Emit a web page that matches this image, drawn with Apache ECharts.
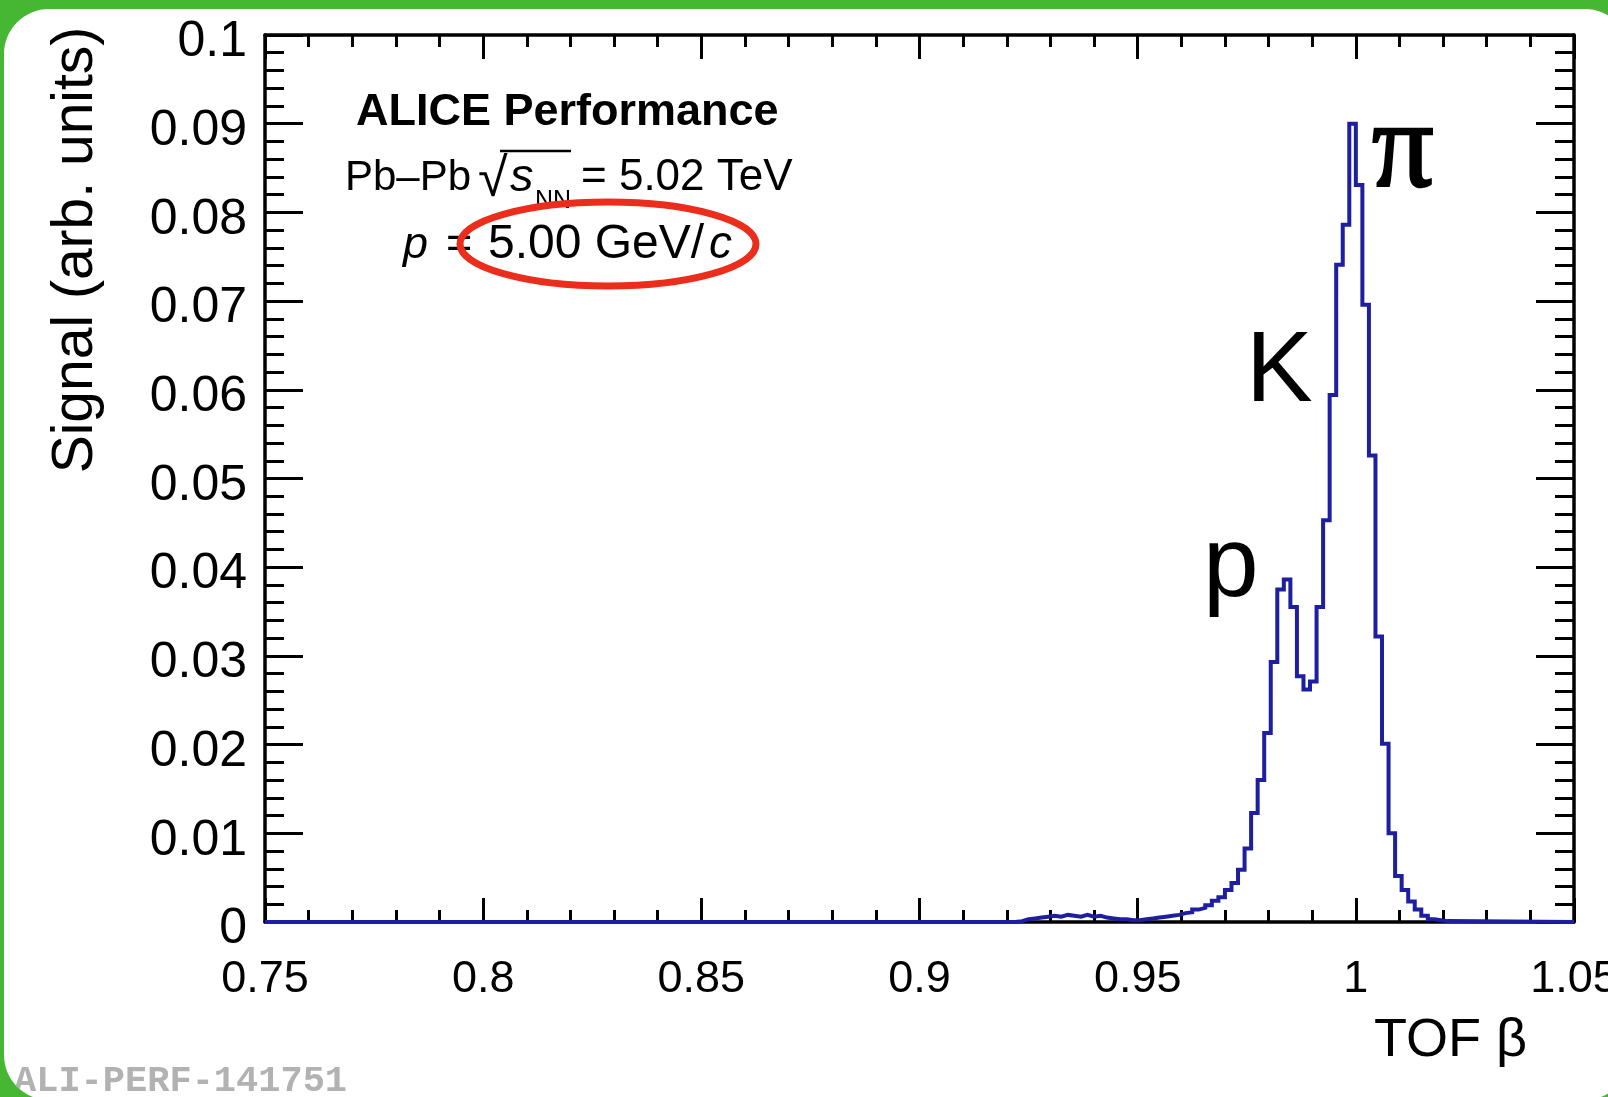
<!DOCTYPE html>
<html>
<head>
<meta charset="utf-8">
<script src="https://cdn.jsdelivr.net/npm/echarts@6/dist/echarts.min.js"></script>
<style>
  html, body { margin: 0; padding: 0; width: 1608px; height: 1097px; overflow: hidden; background: #46b732; }
  #panel { position: absolute; left: 4px; top: 9px; width: 1626px; height: 1091px; background: #fff; border-radius: 45px; overflow: hidden; }
  #chart { position: absolute; left: -4px; top: -9px; width: 1608px; height: 1097px; }
</style>
</head>
<body>
<div id="panel"><div id="chart"></div></div>
<script>
// TOF beta distribution, Pb–Pb at 5.02 TeV, tracks with p = 5.00 GeV/c
const betaRange = [0.75, 1.05];
const betaTickStep = 0.05;
const signalRange = [0, 0.1];
const signalTickStep = 0.01;

// histogram binning: every bin below firstBinLow is empty
const binWidth = 0.0015;
const firstBinLow = 0.922;
const signal = [
  0.0001, 0.0003, 0.0004, 0.0005, 0.0006, 0.0007, 0.0006, 0.0008, 0.0007, 0.0006,
  0.0008, 0.0006, 0.0007, 0.0005, 0.0004, 0.0003, 0.0003, 0.0002, 0.0002, 0.0003,
  0.0004, 0.0005, 0.0006, 0.0007, 0.0008, 0.0010, 0.0011, 0.0014, 0.0016, 0.0019,
  0.0024, 0.0028, 0.0036, 0.0044, 0.0059, 0.0083, 0.0123, 0.0160, 0.0213, 0.0293,
  0.0375, 0.0386, 0.0355, 0.0277, 0.0262, 0.0271, 0.0355, 0.0453, 0.0594, 0.0741,
  0.0786, 0.0900, 0.0831, 0.0696, 0.0526, 0.0322, 0.0201, 0.0100, 0.0052, 0.0036,
  0.0023, 0.0014, 0.0007, 0.0003, 0.0002, 0.0001
];

const peakLabels = [
  { text: 'π', x: 1372, y: 154, font: '122px "Liberation Serif", "DejaVu Serif", serif', stroke: 2.5 },
  { text: 'K', x: 1246, y: 373, font: null, stroke: 0 },
  { text: 'p', x: 1203, y: 568, font: null, stroke: 0 }
];

const SANS = '"Liberation Sans", Arial, Helvetica, sans-serif';
const LINE_COLOR = '#1e1ea0';

// step-histogram points: [bin low edge, content]
const points = [[betaRange[0], 0]];
signal.forEach((v, i) => {
  points.push([+(firstBinLow + i * binWidth).toFixed(5), v]);
});
points.push([+(firstBinLow + signal.length * binWidth).toFixed(5), 0]);
points.push([betaRange[1], 0]);

function frameAxis(base, opts) {
  return Object.assign({
    type: 'value',
    axisLine: { show: true, onZero: false, lineStyle: { color: '#000', width: 3.5 } },
    splitLine: { show: false },
    minorSplitLine: { show: false }
  }, base, opts);
}

const xBase = { min: betaRange[0], max: betaRange[1], interval: betaTickStep };
const yBase = { min: signalRange[0], max: signalRange[1], interval: signalTickStep };

const xTicks = {
  axisTick: { show: true, inside: true, length: 24, lineStyle: { color: '#000', width: 3 } },
  minorTick: { show: true, splitNumber: 5, length: 12, lineStyle: { color: '#000', width: 3 } }
};
const yTicks = {
  axisTick: { show: true, inside: true, length: 38, lineStyle: { color: '#000', width: 3 } },
  minorTick: { show: true, splitNumber: 5, length: 19, lineStyle: { color: '#000', width: 3 } }
};

function txt(text, x, y, font, extra) {
  return Object.assign({
    type: 'text', x: x, y: y, z: 10,
    style: Object.assign({
      text: text, font: font, fill: '#000',
      align: 'left', verticalAlign: 'middle',
      textAlign: 'left', textVerticalAlign: 'middle'
    }, (extra && extra.style) || {})
  }, extra && extra.el ? extra.el : {});
}

const graphics = [
  txt('ALICE Performance', 356, 113, 'bold 45px ' + SANS),
  txt('Pb–Pb', 345, 178, '42px ' + SANS),
  txt('√', 478, 181, '54px ' + SANS),
  { type: 'line', z: 10, shape: { x1: 500, y1: 151, x2: 571, y2: 151 }, style: { stroke: '#000', lineWidth: 2.5 } },
  txt('s', 510, 178, 'italic 47px ' + SANS),
  txt('NN', 535, 201, '25px ' + SANS),
  txt('= 5.02 TeV', 581, 178, '44px ' + SANS),
  txt('p', 403, 245, 'italic 45px ' + SANS),
  txt('=', 446, 245, '45px ' + SANS),
  txt('5.00 GeV/', 488, 245, '48px ' + SANS),
  txt('c', 709, 245, 'italic 46px ' + SANS),
  { type: 'ellipse', z: 11, shape: { cx: 608, cy: 244, rx: 148, ry: 42 },
    style: { fill: 'none', stroke: '#ec2d1c', lineWidth: 7 } },
  txt('Signal (arb. units)', 76, 250, '57px ' + SANS,
    { el: { rotation: Math.PI / 2 }, style: { align: 'center', textAlign: 'center' } }),
  txt('TOF β', 1527, 1041, '54px ' + SANS, { style: { align: 'right', textAlign: 'right' } }),
  txt('ALI-PERF-141751', 14, 1082, 'bold 37px "Liberation Mono", "DejaVu Sans Mono", monospace',
    { style: { fill: '#b2b2b2' } })
];
peakLabels.forEach(p => {
  const extra = p.stroke ? { style: { stroke: '#000', lineWidth: p.stroke } } : null;
  graphics.push(txt(p.text, p.x, p.y, p.font || ('100px ' + SANS), extra));
});

const chart = echarts.init(document.getElementById('chart'), null, { renderer: 'canvas' });
chart.setOption({
  backgroundColor: 'transparent',
  animation: false,
  grid: { left: 265, top: 35, right: 34, bottom: 175, containLabel: false, outerBoundsMode: 'none' },
  xAxis: [
    frameAxis(xBase, Object.assign({
      position: 'bottom',
      axisLabel: { show: true, margin: 35, fontSize: 45, fontFamily: SANS, color: '#000' }
    }, xTicks)),
    frameAxis(xBase, Object.assign({
      position: 'top',
      axisLabel: { show: false }
    }, xTicks))
  ],
  yAxis: [
    frameAxis(yBase, Object.assign({
      position: 'left',
      axisLabel: { show: true, margin: 18, fontSize: 50, lineHeight: 15, verticalAlign: 'top',
        fontFamily: SANS, color: '#000' }
    }, yTicks)),
    frameAxis(yBase, Object.assign({
      position: 'right',
      axisLabel: { show: false }
    }, yTicks))
  ],
  series: [{
    type: 'line',
    xAxisIndex: 0,
    yAxisIndex: 0,
    step: 'end',
    data: points,
    showSymbol: false,
    symbol: 'none',
    clip: false,
    z: 5,
    lineStyle: { color: LINE_COLOR, width: 4, join: 'miter' }
  }],
  graphic: { elements: graphics }
});
</script>
</body>
</html>
